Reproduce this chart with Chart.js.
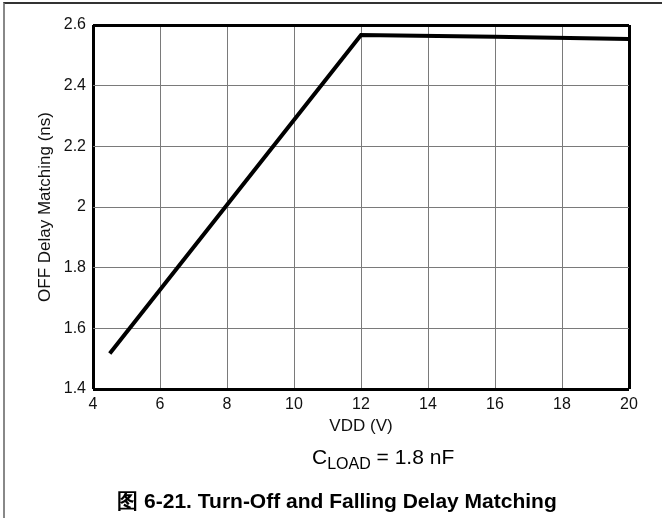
<!DOCTYPE html>
<html>
<head>
<meta charset="utf-8">
<script src="https://cdn.jsdelivr.net/npm/chart.js@4.4.1/dist/chart.umd.min.js"></script>
<style>
  html, body { margin: 0; padding: 0; background: #fff; }
  #wrap { position: relative; width: 662px; height: 518px; overflow: hidden; font-family: Arial, "Liberation Sans", sans-serif; }
  #frame { position: absolute; left: 3px; top: 2px; right: -2px; bottom: -2px; border-top: 2px solid #333; border-left: 2px solid #888; }
  #chart { position: absolute; left: 0; top: 0; }
  .note { position: absolute; color: #000; white-space: nowrap; }
  #cload { left: 312px; top: 445px; font-size: 21px; }
  #cload sub { font-size: 16px; vertical-align: -5px; line-height: 0; }
  #caption { left: 0; width: 674px; text-align: center; top: 487px; font-size: 21px; font-weight: bold; }
</style>
</head>
<body>
<div id="wrap">
  <div id="frame"></div>
  <canvas id="chart" width="662" height="518"></canvas>
  <div class="note" id="cload">C<sub>LOAD</sub> = 1.8 nF</div>
  <div class="note" id="caption">图 6-21. Turn-Off and Falling Delay Matching</div>
</div>
<script>
// ============ Data ============
const vddValues = [4.5, 12, 16, 20];
const delayMatching = [1.517, 2.567, 2.561, 2.554];

const xTicks = [4, 6, 8, 10, 12, 14, 16, 18, 20];
const yTicks = [1.4, 1.6, 1.8, 2, 2.2, 2.4, 2.6];

const AXIS_FONT = { family: 'Arial, "Liberation Sans", sans-serif', size: 16 };
const TITLE_FONT = { family: 'Arial, "Liberation Sans", sans-serif', size: 17 };

// edge grid lines act as the heavy plot frame
function gridColor(ctx) {
  const n = ctx.scale.ticks.length;
  return (ctx.index === 0 || ctx.index === n - 1) ? '#000' : '#7a7a7a';
}
function gridWidth(ctx) {
  const n = ctx.scale.ticks.length;
  return (ctx.index === 0 || ctx.index === n - 1) ? 3 : 1;
}

const ctx = document.getElementById('chart').getContext('2d');
new Chart(ctx, {
  type: 'scatter',
  data: {
    datasets: [{
      data: vddValues.map((v, i) => ({ x: v, y: delayMatching[i] })),
      showLine: true,
      borderColor: '#000',
      borderWidth: 4,
      pointRadius: 0,
      tension: 0,
      fill: false,
    }],
  },
  options: {
    responsive: false,
    animation: false,
    devicePixelRatio: 1,
    layout: { padding: { top: 25, right: 33, bottom: 0, left: 0 } },
    plugins: { legend: { display: false }, tooltip: { enabled: false } },
    scales: {
      x: {
        type: 'linear',
        min: 4,
        max: 20,
        afterBuildTicks: s => { s.ticks = xTicks.map(v => ({ value: v })); },
        afterFit: s => { s.height = 129; },
        ticks: { font: AXIS_FONT, color: '#111', padding: 6, maxRotation: 0 },
        grid: { drawTicks: false, color: gridColor, lineWidth: gridWidth },
        border: { display: false },
        title: { display: true, text: 'VDD (V)', font: TITLE_FONT, color: '#111', padding: { top: 0, bottom: 81 } },
      },
      y: {
        min: 1.4,
        max: 2.6,
        afterBuildTicks: s => { s.ticks = yTicks.map(v => ({ value: v })); },
        afterFit: s => { s.width = 93; },
        ticks: { font: AXIS_FONT, color: '#111', padding: 7, callback: v => String(Math.round(v * 10) / 10) },
        grid: { drawTicks: false, color: gridColor, lineWidth: gridWidth },
        border: { display: false },
        title: { display: true, text: 'OFF Delay Matching (ns)', font: TITLE_FONT, color: '#111', padding: { top: 35, bottom: 0 } },
      },
    },
  },
});
</script>
</body>
</html>
